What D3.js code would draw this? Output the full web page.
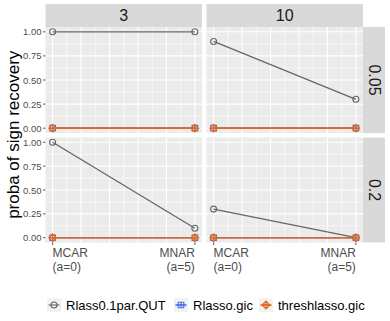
<!DOCTYPE html>
<html>
<head>
<meta charset="utf-8">
<script src="https://cdn.jsdelivr.net/npm/d3@7"></script>
<style>
  body { margin: 0; background: #fff; }
  text { font-family: "Liberation Sans", Arial, sans-serif; }
</style>
</head>
<body>
<div id="chart"></div>
<script>
// facet levels
const colLevels = ["3", "10"];
const rowLevels = ["0.05", "0.2"];
const methods = ["Rlass0.1par.QUT", "Rlasso.gic", "threshlasso.gic"];
const methodColors = ["#666666", "#4a6ee6", "#e0691e"];
const xValues = [0, 5];
const xLabels = [["MCAR", "(a=0)"], ["MNAR", "(a=5)"]];
const yTicks = [0, 0.25, 0.5, 0.75, 1];

// values per panel, panels in order: (3,0.05) (10,0.05) (3,0.2) (10,0.2)
const qutValues = [[1, 1], [0.9, 0.3], [1, 0.1], [0.3, 0]];
const rlassoValues = [[0, 0], [0, 0], [0, 0], [0, 0]];
const threshValues = [[0, 0], [0, 0], [0, 0], [0, 0]];
const seriesValues = [qutValues, rlassoValues, threshValues];

const W = 390, H = 321;
const svg = d3.select("#chart").append("svg").attr("width", W).attr("height", H);

const colX = [[45.5, 202], [206.5, 363]];
const rowY = [[27, 133], [137.5, 242.5]];
const stripTop = 4, stripRight = 385;

function symbol(g, i, x, y, color) {
  if (i === 0) {
    g.append("circle").attr("cx", x).attr("cy", y).attr("r", 3)
      .attr("fill", "none").attr("stroke", color).attr("stroke-width", 1.1);
  } else if (i === 1) {
    const s = 2.8;
    g.append("path")
      .attr("d", `M${x - s},${y - s}H${x + s}V${y + s}H${x - s}Z M${x - s},${y}H${x + s} M${x},${y - s}V${y + s}`)
      .attr("fill", "none").attr("stroke", color).attr("stroke-width", 1.1);
  } else {
    const s = 3.8;
    g.append("path")
      .attr("d", `M${x},${y - s}L${x + s},${y}L${x},${y + s}L${x - s},${y}Z M${x - s},${y}H${x + s} M${x},${y - s}V${y + s}`)
      .attr("fill", "none").attr("stroke", color).attr("stroke-width", 1.2);
  }
}

// top strips
colLevels.forEach((lab, c) => {
  svg.append("rect").attr("x", colX[c][0]).attr("y", stripTop)
    .attr("width", colX[c][1] - colX[c][0]).attr("height", rowY[0][0] - stripTop)
    .attr("fill", "#d9d9d9");
  svg.append("text").attr("x", (colX[c][0] + colX[c][1]) / 2).attr("y", (stripTop + rowY[0][0]) / 2)
    .attr("text-anchor", "middle").attr("dominant-baseline", "central")
    .attr("font-size", 16).attr("fill", "#1a1a1a").text(lab);
});

// right strips
rowLevels.forEach((lab, r) => {
  svg.append("rect").attr("x", colX[1][1]).attr("y", rowY[r][0])
    .attr("width", stripRight - colX[1][1]).attr("height", rowY[r][1] - rowY[r][0])
    .attr("fill", "#d9d9d9");
  const cx = (colX[1][1] + stripRight) / 2, cy = (rowY[r][0] + rowY[r][1]) / 2;
  svg.append("text").attr("transform", `translate(${cx},${cy}) rotate(90)`)
    .attr("text-anchor", "middle").attr("dominant-baseline", "central")
    .attr("font-size", 16).attr("fill", "#1a1a1a").text(lab);
});

rowLevels.forEach((rl, r) => {
  colLevels.forEach((cl, c) => {
    const p = r * 2 + c;
    const x = d3.scaleLinear().domain([-0.25, 5.25]).range(colX[c]);
    const y = d3.scaleLinear().domain([-0.05, 1.05]).range([rowY[r][1], rowY[r][0]]);
    const g = svg.append("g");
    g.append("rect").attr("x", colX[c][0]).attr("y", rowY[r][0])
      .attr("width", colX[c][1] - colX[c][0]).attr("height", rowY[r][1] - rowY[r][0])
      .attr("fill", "#ebebeb");
    // minor grid
    d3.range(0.5, 5, 1).forEach(v => {
      g.append("line").attr("x1", x(v)).attr("x2", x(v)).attr("y1", rowY[r][0]).attr("y2", rowY[r][1])
        .attr("stroke", "#fff").attr("stroke-width", 0.6);
    });
    d3.range(0.125, 1, 0.25).forEach(v => {
      g.append("line").attr("y1", y(v)).attr("y2", y(v)).attr("x1", colX[c][0]).attr("x2", colX[c][1])
        .attr("stroke", "#fff").attr("stroke-width", 0.6);
    });
    // major grid
    d3.range(0, 6, 1).forEach(v => {
      g.append("line").attr("x1", x(v)).attr("x2", x(v)).attr("y1", rowY[r][0]).attr("y2", rowY[r][1])
        .attr("stroke", "#fff").attr("stroke-width", 1.1);
    });
    yTicks.forEach(v => {
      g.append("line").attr("y1", y(v)).attr("y2", y(v)).attr("x1", colX[c][0]).attr("x2", colX[c][1])
        .attr("stroke", "#fff").attr("stroke-width", 1.1);
    });

    seriesValues.forEach((vals, m) => {
      const line = d3.line().x((d, i) => x(xValues[i])).y(d => y(d));
      g.append("path").attr("d", line(vals[p])).attr("fill", "none")
        .attr("stroke", methodColors[m]).attr("stroke-width", m === 0 ? 1.3 : 1.7);
      vals[p].forEach((v, i) => symbol(g, m, x(xValues[i]), y(v), methodColors[m]));
    });

    // y axis on left column
    if (c === 0) {
      yTicks.forEach(v => {
        svg.append("line").attr("x1", colX[0][0] - 2.5).attr("x2", colX[0][0]).attr("y1", y(v)).attr("y2", y(v))
          .attr("stroke", "#333").attr("stroke-width", 0.8);
        svg.append("text").attr("x", colX[0][0] - 4).attr("y", y(v))
          .attr("text-anchor", "end").attr("dominant-baseline", "central")
          .attr("font-size", 9.5).attr("fill", "#4d4d4d").text(v.toFixed(2));
      });
    }
    // x axis on bottom row
    if (r === 1) {
      xValues.forEach((v, i) => {
        svg.append("line").attr("x1", x(v)).attr("x2", x(v)).attr("y1", rowY[1][1]).attr("y2", rowY[1][1] + 2.5)
          .attr("stroke", "#333").attr("stroke-width", 0.8);
        const t = svg.append("text").attr("x", x(v)).attr("y", rowY[1][1] + 14)
          .attr("text-anchor", i === 0 ? "start" : "end")
          .attr("font-size", 12).attr("fill", "#4d4d4d");
        xLabels[i].forEach((s, k) => t.append("tspan").attr("x", x(v)).attr("dy", k === 0 ? 0 : 14).text(s));
      });
    }
  });
});

// y title
svg.append("text").attr("transform", `translate(19,${(rowY[0][0] + rowY[1][1]) / 2}) rotate(-90)`)
  .attr("text-anchor", "middle").attr("font-size", 17).attr("fill", "#000")
  .text("proba of sign recovery");

// legend
const legendX = [47, 174, 259];
const legendY = 305;
methods.forEach((name, m) => {
  const lx = legendX[m];
  svg.append("rect").attr("x", lx).attr("y", legendY - 7).attr("width", 14).attr("height", 14).attr("fill", "#f2f2f2");
  svg.append("line").attr("x1", lx + 1.5).attr("x2", lx + 12.5).attr("y1", legendY).attr("y2", legendY)
    .attr("stroke", methodColors[m]).attr("stroke-width", m === 0 ? 1.1 : 1.6);
  symbol(svg, m, lx + 7, legendY, methodColors[m]);
  svg.append("text").attr("x", lx + 19).attr("y", legendY).attr("dominant-baseline", "central")
    .attr("font-size", 13).attr("fill", "#000").text(name);
});
</script>
</body>
</html>
